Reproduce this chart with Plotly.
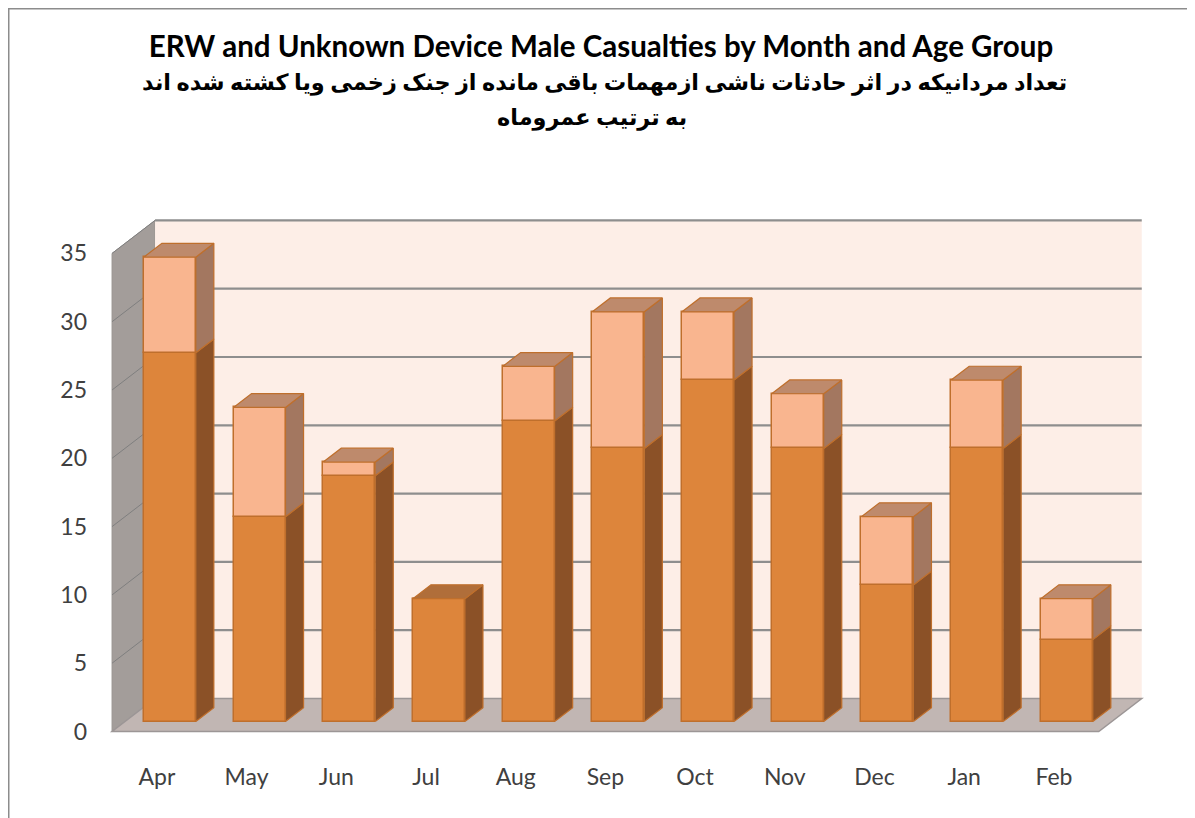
import plotly.graph_objects as go

# ---------------- data ----------------
months = ["Apr", "May", "Jun", "Jul", "Aug", "Sep", "Oct", "Nov", "Dec", "Jan", "Feb"]
group_dark = [27, 15, 18, 9, 22, 20, 25, 20, 10, 20, 6]     # lower (dark orange) segment
group_light = [7, 8, 1, 0, 4, 10, 5, 4, 5, 5, 3]            # upper (light peach) segment
y_ticks = [0, 5, 10, 15, 20, 25, 30, 35]

title_en = "ERW and Unknown Device Male Casualties by Month and Age Group"
title_fa1 = "تعداد مردانیکه در اثر حادثات ناشی ازمهمات باقی مانده از جنک زخمی ویا کشته شده اند"
title_fa2 = "به ترتیب عمروماه"

# ---------------- geometry / style ----------------
OFF = 8                                         # page body margin
W, H = 1195 - OFF, 818 - OFF
PL, PR, PT, PB = 100 - OFF, 1160 - OFF, 200 - OFF, 745 - OFF   # plot box in pixels
X0PIX, XU = 156.9 - OFF, 89.7                  # pixel of category 0 (front plane), px per category
Y0PIX, YU = 731.5 - OFF, 13.66                 # pixel of value 0 (front plane), px per unit
DX, DY = 43 / XU, 33 / YU                      # full depth offset in axis units
Z0, Z1 = 0.30, 0.72                            # bar front / back depth fraction
BW = 52 / XU                                   # bar width
YMAX = y_ticks[-1]
n = len(months)

xr = [(PL - X0PIX) / XU, (PR - X0PIX) / XU]
yr = [(Y0PIX - PB) / YU, (Y0PIX - PT) / YU]

C_DARK = "#DD853B"
C_DARK_SIDE = "#8B5127"
C_DARK_TOP = "#B06E3A"
C_LIGHT = "#F9B58F"
C_LIGHT_SIDE = "#A37760"
C_LIGHT_TOP = "#BE8A6C"
C_EDGE = "#BF6F2C"

FONT_TXT = "Lato, 'Open Sans', sans-serif"
FONT_TITLE = "Lato, 'DejaVu Sans', sans-serif"


def path(pts):
    return "M " + " L ".join(f"{x},{y}" for x, y in pts) + " Z"


def px_x(p):
    return (p - OFF - PL) / (PR - PL)


def px_y(p):
    return (PB - (p - OFF)) / (PB - PT)


xl_wall, xr_wall = -0.5, n - 0.5
shapes = []
# left wall
shapes.append(dict(type="path", xref="x", yref="y", layer="below",
                   path=path([(xl_wall, 0), (xl_wall + DX, DY), (xl_wall + DX, YMAX + DY), (xl_wall, YMAX)]),
                   fillcolor="#A39D9A", line=dict(color="#9A9491", width=1)))
# back wall
shapes.append(dict(type="path", xref="x", yref="y", layer="below",
                   path=path([(xl_wall + DX, DY), (xr_wall + DX, DY), (xr_wall + DX, YMAX + DY), (xl_wall + DX, YMAX + DY)]),
                   fillcolor="#FDEEE7", line=dict(width=0)))
# floor
shapes.append(dict(type="path", xref="x", yref="y", layer="below",
                   path=path([(xl_wall, 0), (xr_wall, 0), (xr_wall + DX, DY), (xl_wall + DX, DY)]),
                   fillcolor="#C1B6B3", line=dict(color="#9C9696", width=1.5)))
# gridlines
for v in y_ticks[1:]:
    shapes.append(dict(type="line", xref="x", yref="y", layer="below",
                       x0=xl_wall + DX, x1=xr_wall + DX, y0=v + DY, y1=v + DY,
                       line=dict(color="#8E8E8E", width=2.2)))
    shapes.append(dict(type="line", xref="x", yref="y", layer="below",
                       x0=xl_wall, x1=xl_wall + DX, y0=v, y1=v + DY,
                       line=dict(color="#7F7F7F", width=1)))
# outer chart border
shapes.append(dict(type="rect", xref="paper", yref="paper",
                   x0=px_x(OFF + 0.75), x1=px_x(1215),
                   y0=px_y(840), y1=px_y(OFF + 0.75),
                   line=dict(color="#8C8C8C", width=1.5), fillcolor="rgba(0,0,0,0)"))

fig = go.Figure()

xc = [i + Z0 * DX for i in range(n)]
base0 = Z0 * DY
fig.add_trace(go.Bar(x=xc, y=group_dark, base=[base0] * n, width=BW, name="Group 1",
                     marker=dict(color=C_DARK, line=dict(color=C_EDGE, width=1.5)), showlegend=False))
fig.add_trace(go.Bar(x=xc, y=group_light, base=[base0 + d for d in group_dark], width=BW, name="Group 2",
                     marker=dict(color=C_LIGHT, line=dict(color=C_EDGE, width=1.5)), showlegend=False))

dd = Z1 - Z0


def poly_trace(polys, color):
    xs, ys = [], []
    for p in polys:
        for x, y in p + [p[0]]:
            xs.append(x)
            ys.append(y)
        xs.append(None)
        ys.append(None)
    return go.Scatter(x=xs, y=ys, mode="lines", fill="toself", fillcolor=color,
                      line=dict(color=C_EDGE, width=1.2), hoverinfo="skip", showlegend=False)


dark_sides, light_sides, dark_tops, light_tops = [], [], [], []
for i in range(n):
    xl = xc[i] - BW / 2
    xrr = xc[i] + BW / 2
    y0 = base0
    y1 = base0 + group_dark[i]
    y2 = y1 + group_light[i]
    dark_sides.append([(xrr, y0), (xrr + dd * DX, y0 + dd * DY), (xrr + dd * DX, y1 + dd * DY), (xrr, y1)])
    if group_light[i] > 0:
        light_sides.append([(xrr, y1), (xrr + dd * DX, y1 + dd * DY), (xrr + dd * DX, y2 + dd * DY), (xrr, y2)])
        light_tops.append([(xl, y2), (xrr, y2), (xrr + dd * DX, y2 + dd * DY), (xl + dd * DX, y2 + dd * DY)])
    else:
        dark_tops.append([(xl, y1), (xrr, y1), (xrr + dd * DX, y1 + dd * DY), (xl + dd * DX, y1 + dd * DY)])

fig.add_trace(poly_trace(dark_sides, C_DARK_SIDE))
fig.add_trace(poly_trace(light_sides, C_LIGHT_SIDE))
if dark_tops:
    fig.add_trace(poly_trace(dark_tops, C_DARK_TOP))
fig.add_trace(poly_trace(light_tops, C_LIGHT_TOP))

annotations = [
    dict(text=f"<b>{title_fa1}</b>", xref="paper", yref="paper",
         x=px_x(604), y=px_y(82), showarrow=False,
         font=dict(family=FONT_TITLE, size=22.4, color="#000000"), xanchor="center", yanchor="middle"),
    dict(text=f"<b>{title_fa2}</b>", xref="paper", yref="paper",
         x=px_x(592), y=px_y(117), showarrow=False,
         font=dict(family=FONT_TITLE, size=22.4, color="#000000"), xanchor="center", yanchor="middle"),
]

fig.update_layout(
    width=W, height=H,
    margin=dict(l=PL, r=W - PR, t=PT, b=H - PB, pad=0),
    paper_bgcolor="white", plot_bgcolor="rgba(0,0,0,0)",
    barmode="overlay", bargap=0,
    title=dict(text=f"<b>{title_en}</b>", x=(601 - OFF) / W, xanchor="center", xref="container",
               y=1 - (47 - OFF) / H, yanchor="middle", yref="container",
               font=dict(family=FONT_TITLE, size=29.5, color="#000000")),
    shapes=shapes, annotations=annotations,
    xaxis=dict(range=xr, tickvals=list(range(n)), ticktext=months, showgrid=False, zeroline=False,
               showline=False, ticks="", ticklabelstandoff=16,
               tickfont=dict(family=FONT_TXT, size=23, color="#404040"), fixedrange=True),
    yaxis=dict(range=yr, tickvals=y_ticks, ticktext=[str(v) for v in y_ticks], showgrid=False,
               zeroline=False, showline=False, ticks="", ticklabelstandoff=12,
               tickfont=dict(family=FONT_TXT, size=23, color="#404040"), fixedrange=True),
)

fig.write_html("out.html")
